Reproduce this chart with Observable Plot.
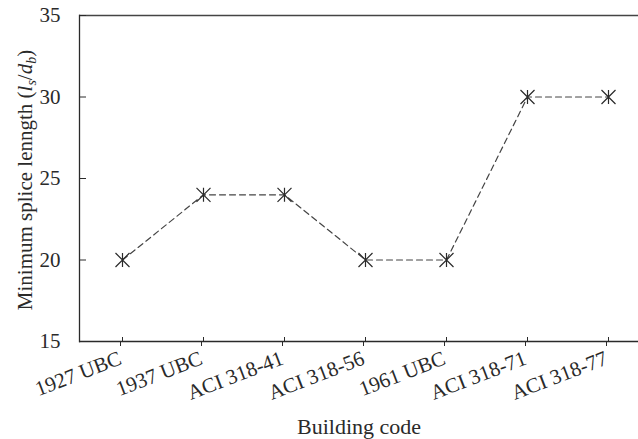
<!DOCTYPE html>
<html>
<head>
<meta charset="utf-8">
<script src="https://cdn.jsdelivr.net/npm/d3@7"></script>
<script src="https://cdn.jsdelivr.net/npm/@observablehq/plot@0.6"></script>
<style>
  body { margin: 0; background: #fff; }
  svg { font-family: "Liberation Serif", "Times New Roman", serif; }
</style>
</head>
<body>
<div id="chart"></div>
<script>
const codes = ["1927 UBC", "1937 UBC", "ACI 318-41", "ACI 318-56", "1961 UBC", "ACI 318-71", "ACI 318-77"];
const spliceLength = [20, 24, 24, 20, 20, 30, 30];
const yTicks = [15, 20, 25, 30, 35];
const xTitle = "Building code";

const data = codes.map((c, i) => ({code: c, value: spliceLength[i]}));
const ink = "#2a2a2a";
const fs = 21;

// asterisk made of a vertical bar and an X
const starSymbol = {
  draw(context, size) {
    const r = Math.sqrt(size / Math.PI);
    context.moveTo(0, -r); context.lineTo(0, r);
    context.moveTo(-r, -r); context.lineTo(r, r);
    context.moveTo(-r, r); context.lineTo(r, -r);
  }
};

const chart = Plot.plot({
  width: 638,
  height: 439,
  marginLeft: 79,
  marginRight: 0,
  marginTop: 15,
  marginBottom: 98,
  style: {fontFamily: "Liberation Serif, Times New Roman, serif", fontSize: fs + "px", color: ink, background: "#fff"},
  x: {type: "point", domain: codes, padding: 0, insetLeft: 41, insetRight: 28, label: null},
  y: {domain: [15, 35], label: null},
  marks: [
    Plot.ruleY([35], {stroke: "#444", strokeWidth: 1.5}),
    Plot.ruleY([15], {stroke: ink, strokeWidth: 1.3}),
    Plot.frame({anchor: "left", stroke: ink, strokeWidth: 1.3}),
    Plot.axisY({ticks: yTicks, tickSize: 0, tickPadding: 19, fontSize: fs, fill: ink}),
    Plot.axisY({ticks: yTicks, tickSize: -7, text: null, stroke: ink}),
    Plot.axisX({tickSize: 5, tickRotate: -21, tickPadding: 11, dx: -2, fontSize: fs, fill: ink, stroke: ink}),
    Plot.axisX({tickSize: -4, text: null, stroke: ink}),
    Plot.axisX({label: xTitle, labelAnchor: "center", labelOffset: 92, tickSize: 0, text: null, fontSize: 22, fill: ink}),
    Plot.line(data, {x: "code", y: "value", stroke: "#444", strokeWidth: 1.2, strokeDasharray: "6,4"}),
    Plot.dot(data, {x: "code", y: "value", symbol: starSymbol, r: 7, stroke: ink, strokeWidth: 1.2})
  ]
});
document.getElementById("chart").append(chart);

// Y axis title with italic/subscript parts
const svg = d3.select(chart);
const t = svg.append("text")
  .attr("transform", `translate(32,180) rotate(-90)`)
  .attr("text-anchor", "middle")
  .attr("font-size", fs)
  .attr("fill", ink)
  .attr("font-family", "Liberation Serif, Times New Roman, serif");
t.append("tspan").text("Minimum splice lenngth (");
t.append("tspan").attr("font-style", "italic").text("l");
t.append("tspan").attr("font-style", "italic").attr("font-size", 14).attr("dy", 4).text("s");
t.append("tspan").attr("dy", -4).text("/");
t.append("tspan").attr("font-style", "italic").text("d");
t.append("tspan").attr("font-style", "italic").attr("font-size", 14).attr("dy", 4).text("b");
t.append("tspan").attr("dy", -4).text(")");
</script>
</body>
</html>
